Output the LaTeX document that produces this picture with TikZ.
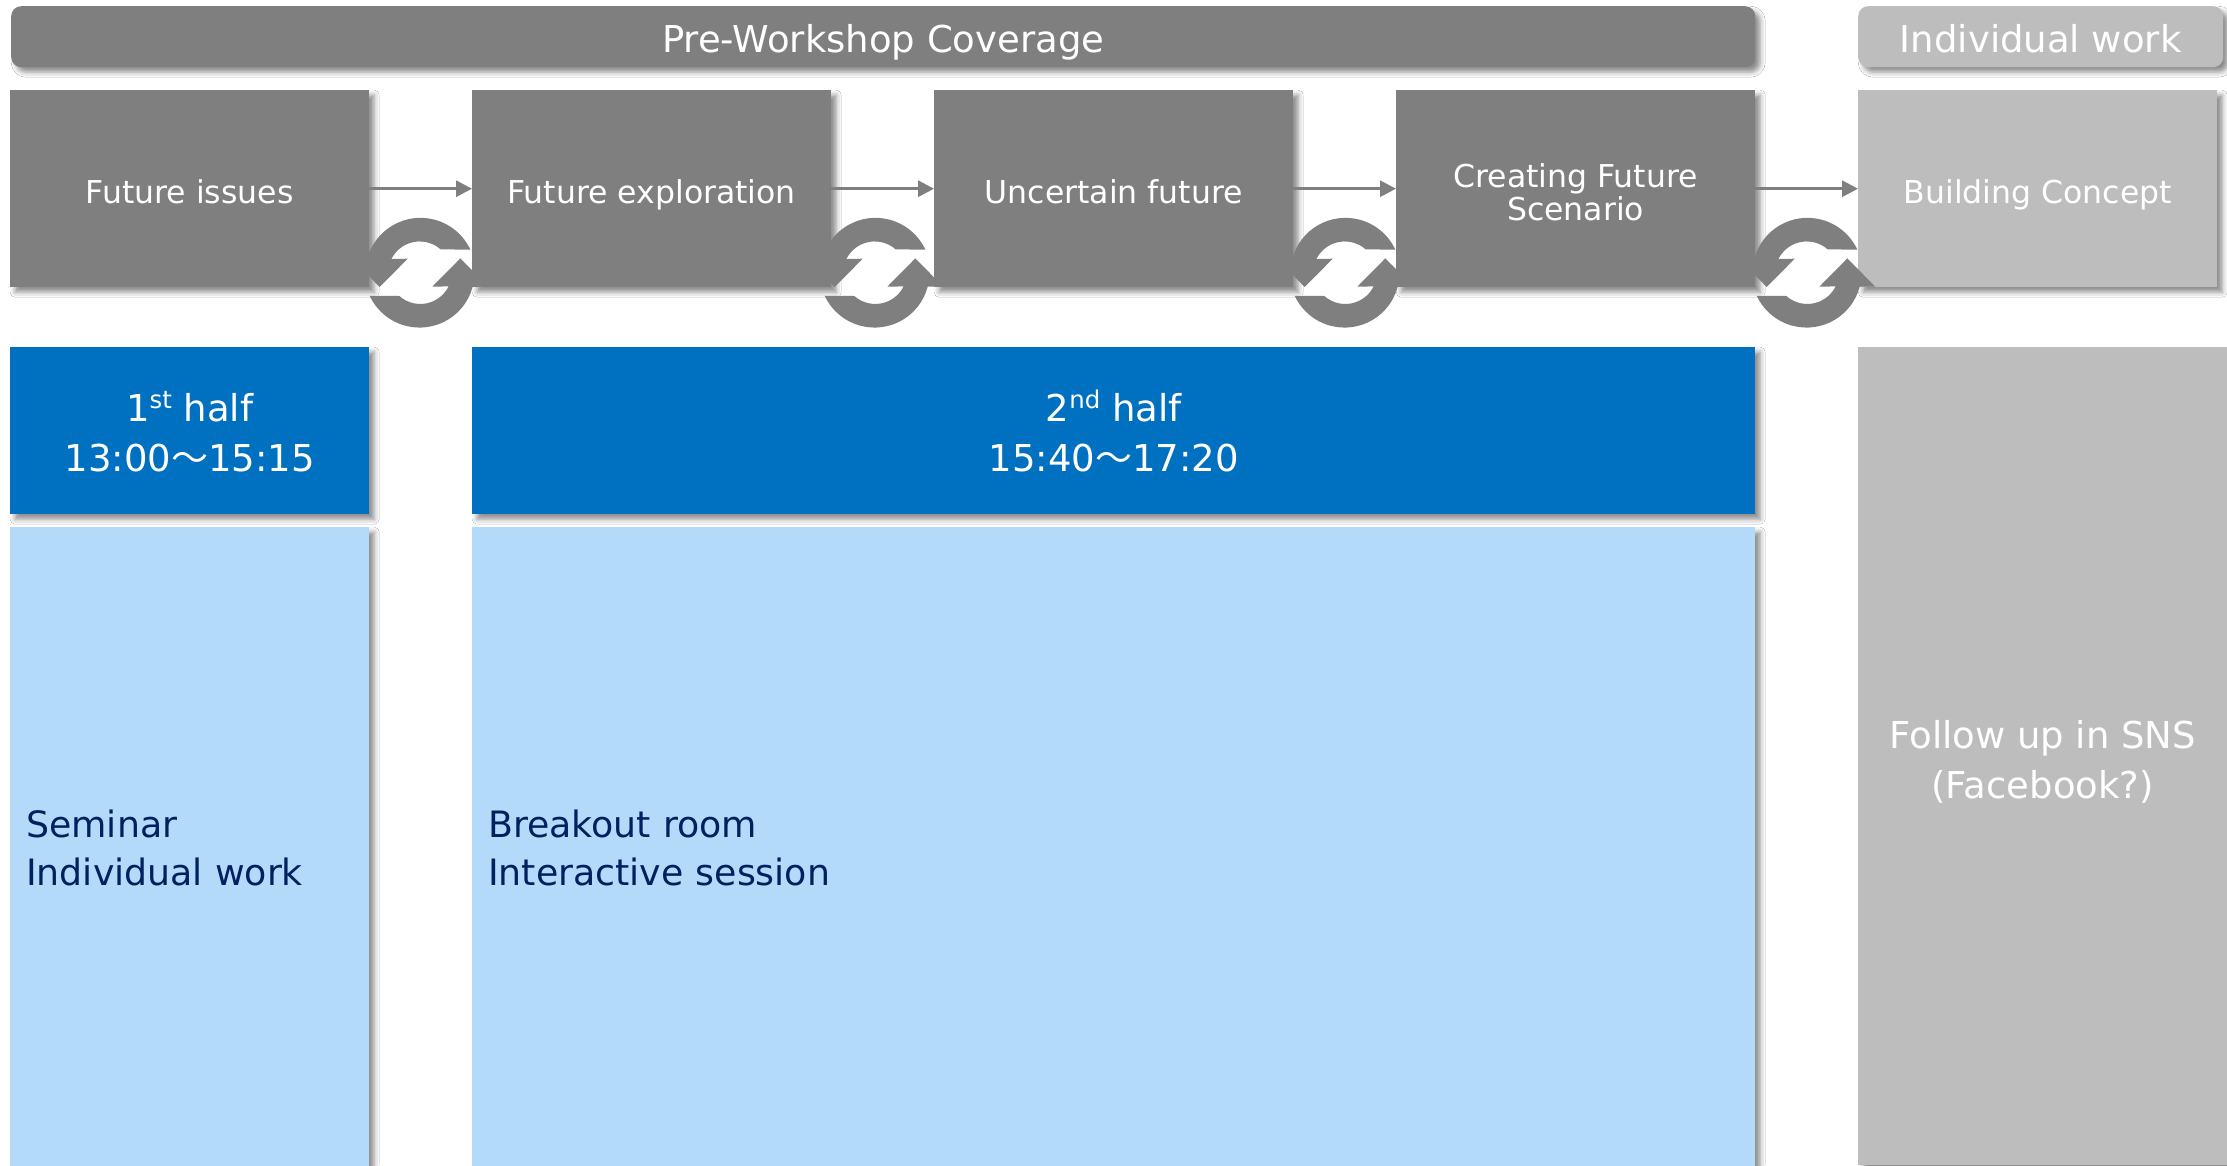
\documentclass[tikz,border=0pt]{standalone}
\usepackage{fontspec}
\setmainfont{DejaVu Sans}
\newfontfamily\cjk{Noto Sans CJK JP}
\usetikzlibrary{arrows.meta,shadows.blur}
\definecolor{dgray}{HTML}{7F7F7F}
\definecolor{lgray}{HTML}{BDBDBD}
\definecolor{mblue}{HTML}{0070C0}
\definecolor{pblue}{HTML}{B4DAFA}
\definecolor{navy}{HTML}{002060}
\newcommand{\sups}[1]{\raisebox{0.36em}{\scalebox{0.66}{#1}}}
\newcommand{\cycleicon}[1]{%
  \foreach \r in {0,180}{
    \fill[dgray,shift={(#1)},rotate=\r]
      (52.7,14) arc[start angle=14.9,end angle=155,radius=55]
      -- (-20.7,23.3) arc[start angle=131.6,end angle=26.3,radius=31.6]
      -- (12.3,14) -- (40.3,-14.3) -- (68.3,14) -- cycle;
  }}
\tikzset{
  x=1pt,y=-1pt,
  shad/.style={blur shadow={shadow xshift=5pt,shadow yshift=-5pt,shadow blur radius=5pt,shadow opacity=45}},
  lift/.style={execute at begin node={\rule{0pt}{\dimexpr.7\baselineskip+#1pt*2\relax}},execute at end node={\strut}},
  lifttwo/.style={execute at begin node={\rule{0pt}{\dimexpr1.7\baselineskip+#1pt*2\relax}},execute at end node={\strut}},
  anyb/.style={anchor=north west,inner sep=0pt,align=center,text=white,shad},
  barbox/.style={anyb,rounded corners=10pt,minimum height=61pt,lift=7,font=\fontsize{37}{44}\selectfont},
  stepbox/.style={anyb,minimum width=359pt,minimum height=197pt,fill=dgray,font=\fontsize{31.5}{33.5}\selectfont},
  halfbox/.style={anyb,fill=mblue,minimum height=167pt,lifttwo=6,font=\fontsize{37}{49.5}\selectfont},
  lightbox/.style={anyb,fill=pblue,text=navy,align=left,minimum height=640pt,inner xsep=16pt,lift=4.5,font=\fontsize{36.3}{48}\selectfont},
  sidebox/.style={anyb,fill=lgray,minimum width=369pt,minimum height=818pt,lifttwo=7,font=\fontsize{37}{50}\selectfont},
  flow/.style={draw=dgray,line width=3pt,-{Triangle[length=16pt,width=16pt]},shorten >=0pt},
}
\begin{document}
\begin{tikzpicture}
\useasboundingbox (0,0) rectangle (2227,1165);
\fill[white] (0,0) rectangle (2227,1165);
\begin{scope}
\clip (0,0) rectangle (2227,1165);
\node[barbox,fill=dgray,minimum width=1744pt] (pre) at (11,6) {Pre-Workshop Coverage};
\node[barbox,fill=lgray,minimum width=365pt] (ind) at (1858,6) {Individual work};
\node[stepbox,lift=8.5] (s1) at (10,90) {Future issues};
\node[stepbox,lift=8.5] (s2) at (472,90) {Future exploration};
\node[stepbox,lift=8.5] (s3) at (934,90) {Uncertain future};
\node[stepbox,lifttwo=8.5] (s4) at (1396,90) {Creating Future\\Scenario};
\node[stepbox,lift=8.5,fill=lgray] (s5) at (1858,90) {Building Concept};
\node[halfbox,minimum width=359pt] (h1) at (10,347) {1\sups{st} half\\13:00{\cjk ～}15:15};
\node[halfbox,minimum width=1283pt] (h2) at (472,347) {2\sups{nd} half\\15:40{\cjk ～}17:20};
\node[lightbox,text width=327pt] (l1) at (10,527) {Seminar\\Individual work};
\node[lightbox,text width=1251pt] (l2) at (472,527) {Breakout room\\Interactive session};
\node[sidebox] (fu) at (1858,347) {Follow up in SNS\\(Facebook?)};
\end{scope}
\draw[flow] (s1) -- (s2);
\draw[flow] (s2) -- (s3);
\draw[flow] (s3) -- (s4);
\draw[flow] (s4) -- (s5);
\cycleicon{420,272.7}
\cycleicon{875,272.7}
\cycleicon{1345,272.7}
\cycleicon{1807,272.7}
\end{tikzpicture}
\end{document}
